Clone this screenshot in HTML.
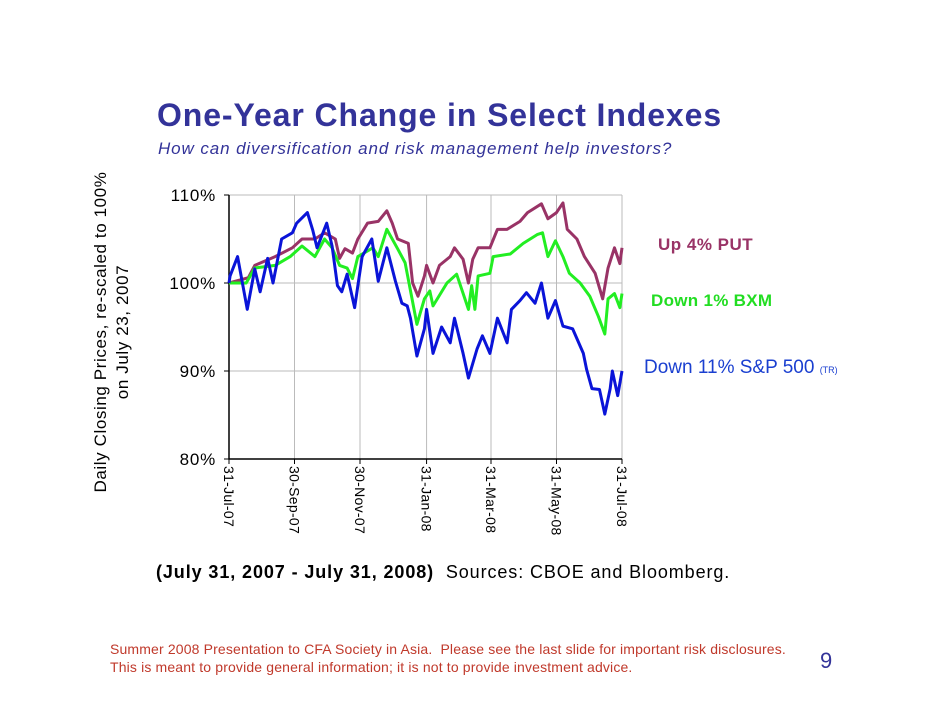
<!DOCTYPE html>
<html><head><meta charset="utf-8"><style>
body{margin:0;width:942px;height:728px;background:#fff;overflow:hidden;font-family:"Liberation Sans",sans-serif;position:relative}
.t{position:absolute;white-space:nowrap}
</style></head><body>
<div class="t" style="left:157px;top:97px;font-size:32px;letter-spacing:0.9px;font-weight:bold;color:#333399">One-Year Change in Select Indexes</div>
<div class="t" style="left:158px;top:139px;font-size:17px;letter-spacing:0.9px;font-style:italic;color:#333399">How can diversification and risk management help investors?</div>
<div class="t" style="left:112px;top:332px;transform:translate(-50%,-50%) rotate(-90deg);font-size:17px;letter-spacing:0.6px;text-align:center;line-height:22px">Daily Closing Prices, re-scaled to 100%<br>on July 23, 2007</div>
<div class="t" style="left:658px;top:235px;font-size:17px;letter-spacing:0.5px;font-weight:bold;color:#993366">Up 4% PUT</div>
<div class="t" style="left:651px;top:291px;font-size:17px;letter-spacing:0.3px;font-weight:bold;color:#22dd22">Down 1% BXM</div>
<div class="t" style="left:644px;top:357px;font-size:19px;color:#1a3fd0">Down 11% S&amp;P 500 <span style="font-size:9px">(TR)</span></div>
<div class="t" style="left:156px;top:562px;font-size:18px;letter-spacing:0.9px"><b>(July 31, 2007 - July 31, 2008)</b>&nbsp; Sources: CBOE and Bloomberg.</div>
<div class="t" style="left:110px;top:640px;font-size:14px;letter-spacing:0.15px;color:#c0392b;line-height:18px">Summer 2008 Presentation to CFA Society in Asia.&nbsp; Please see the last slide for important risk disclosures.<br>This is meant to provide general information; it is not to provide investment advice.</div>
<div class="t" style="left:820px;top:648px;font-size:22px;color:#333399">9</div>
<svg id="chart" width="942" height="728" style="position:absolute;left:0;top:0"></svg>
<script>
const tickDays=[0,61,122,184,244,305,366];
const tickLabels=["31-Jul-07","30-Sep-07","30-Nov-07","31-Jan-08","31-Mar-08","31-May-08","31-Jul-08"];
const yTicks=[80,90,100,110];
const spDays=[0,1,8,17,24,29,36,41,49,59,63,73,78,82,91,96,101,105,110,117,124,133,139,147,155,161,166,169,175,182,184,190,198,206,210,218,223,231,236,243,250,259,263,271,277,285,291,297,304,311,320,330,333,338,345,350,355,357,362,366];
const spVals=[100,100.8,103,97,101.6,99,102.8,100,105,105.7,106.8,108,106,104,106.8,104.2,99.7,99,101,97.2,103,105,100.2,104,100.2,97.7,97.4,96,91.7,94.8,97,92,95,93.2,96,92,89.2,92.5,94,92,96,93.2,97,98,98.9,97.7,100,96,98,95.1,94.8,92,90.2,88,87.9,85.1,88,90,87.2,90];
const bxmDays=[0,16,24,43,57,68,80,89,96,103,110,115,120,134,139,147,157,164,170,175,182,187,190,203,212,223,226,229,232,243,246,262,274,287,292,297,304,311,317,327,336,344,350,353,359,364,366];
const bxmVals=[100,100,101.7,102,103,104.2,103,105,104,102,101.7,100.5,103,104,103,106.1,103.9,102.3,98.5,95.3,98.2,99.1,97.4,100,101,97,99.7,97,100.8,101.1,103,103.3,104.5,105.5,105.7,103,104.8,103,101.1,100,98.5,96.2,94.2,98.2,98.8,97.2,98.8];
const putDays=[0,18,24,43,59,68,80,89,99,103,108,115,120,129,139,147,152,157,167,171,176,182,184,190,196,206,210,218,223,227,232,243,250,259,271,278,291,297,305,311,315,324,331,341,348,353,359,364,366];
const putVals=[100,100.6,102,103,104,105,105,105.7,105,102.8,103.9,103.4,105,106.8,107,108.2,106.8,105,104.5,100,98.5,100.8,102,100,102,103,104,102.7,100,102.7,104,104,106.1,106.1,107,108,109,107.3,108,109.1,106.1,105,103,101.1,98.2,101.7,104,102.2,104];
const svg=document.getElementById('chart');const NS='http://www.w3.org/2000/svg';
const X0=229,X1=622,Y80=459,Y110=195;
const xs=d=>X0+(X1-X0)*d/366;
const ys=v=>Y80-(Y80-Y110)*(v-80)/30;
function mk(t,a){const e=document.createElementNS(NS,t);for(const k in a)e.setAttribute(k,a[k]);svg.appendChild(e);return e;}
yTicks.forEach(v=>{
  if(v>80){const g=mk('line',{x1:X0,x2:X1,y1:ys(v),y2:ys(v),stroke:'#bbb','stroke-width':1});
  
  }
  const tk=mk('line',{x1:X0-5,x2:X0,y1:ys(v),y2:ys(v),stroke:'#000'});
  
  
  const t=mk('text',{x:X0-13,y:ys(v)+6,'text-anchor':'end','font-size':17,'letter-spacing':0.8,'font-family':'Liberation Sans'});t.textContent=v+'%';
  
  
});
tickDays.forEach((d,i)=>{
  if(i>0){const g=mk('line',{x1:xs(d),x2:xs(d),y1:Y110,y2:Y80,stroke:'#bbb'});
  
  }
  const tk=mk('line',{x1:xs(d),x2:xs(d),y1:Y80,y2:Y80+5,stroke:'#000'});
  
  
  const t=mk('text',{x:0,y:0,'font-size':14,'letter-spacing':0.3,'font-family':'Liberation Sans',transform:`translate(${xs(d)-5},466) rotate(90)`});t.textContent=tickLabels[i];
  
  
});
const ax=mk('path',{d:`M${X0} ${Y110}V${Y80}H${X1}`,fill:'none',stroke:'#000','stroke-width':1.5});


function series(days,vals,col,name){
  const p=mk('polyline',{points:days.map((d,i)=>xs(d)+','+ys(vals[i])).join(' '),fill:'none',stroke:col,'stroke-width':3,'stroke-linejoin':'round'});
  
  
}
series(putDays,putVals,'#993366','put-line');
series(bxmDays,bxmVals,'#22ee22','bxm-line');
series(spDays,spVals,'#0a14d8','sp500-line');
</script>
</body></html>
